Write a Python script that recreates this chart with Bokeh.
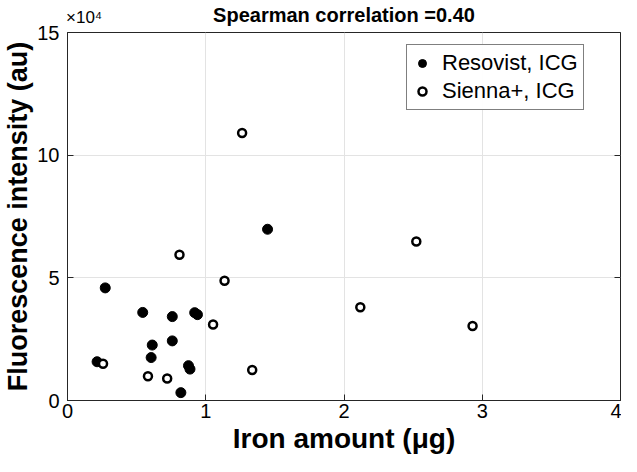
from bokeh.plotting import figure
from bokeh.models import (Range1d, FixedTicker, LinearAxis, Legend, LegendItem,
                          CustomJSTickFormatter)
from bokeh.embed import file_html
from bokeh.resources import INLINE

# Data (iron amount in µg, fluorescence intensity in au)
resovist_iron = [0.214, 0.273, 0.544, 0.758, 0.92, 0.94, 0.613, 0.758, 0.605, 0.875, 0.886, 0.82, 1.447]
resovist_fluor = [15800, 45900, 35900, 34200, 35800, 35000, 22600, 24300, 17500, 14200, 12800, 3200, 69800]

sienna_iron = [0.257, 0.582, 0.721, 0.81, 1.053, 1.136, 1.263, 1.336, 2.118, 2.523, 2.93]
sienna_fluor = [15000, 9900, 9000, 59400, 31000, 48800, 109000, 12400, 38000, 64800, 30400]

x_ticks = [0, 1, 2, 3, 4]
y_ticks = [0, 50000, 100000, 150000]
y_tick_labels = {0: "0", 50000: "5", 100000: "10", 150000: "15"}

title_text = "Spearman correlation =0.40"
x_label = "Iron amount (\u03bcg)"
y_label = "Fluorescence intensity (au)"
y_multiplier = "\u00d710\u2074"
series_names = ["Resovist, ICG", "Sienna+, ICG"]

FONT = "Liberation Sans"
AX = "#262626"

p = figure(width=621, height=456, output_backend="svg", toolbar_location=None,
           x_range=Range1d(0, 4), y_range=Range1d(0, 150000),
           min_border_left=62, min_border_right=1, min_border_top=24, min_border_bottom=55)
p.title.text = ""

p.outline_line_color = AX
p.outline_line_width = 1
p.background_fill_color = "white"
p.border_fill_color = "white"

for ax in (p.xaxis[0], p.yaxis[0]):
    ax.axis_line_color = AX
    ax.major_tick_line_color = AX
    ax.major_tick_in = 6
    ax.major_tick_out = 0
    ax.minor_tick_line_color = None
    ax.major_label_text_font = FONT
    ax.major_label_text_font_size = "20px"
    ax.major_label_text_color = "black"
    ax.axis_label_text_font = FONT
    ax.axis_label_text_font_style = "bold"
    ax.axis_label_text_color = "black"
    ax.axis_label_text_font_size = "27px"

p.xaxis[0].ticker = FixedTicker(ticks=x_ticks)
p.xaxis[0].axis_label = x_label
p.xaxis[0].axis_label_text_font_size = "28px"
p.xaxis[0].major_label_standoff = 3
p.xaxis[0].axis_label_standoff = 2
p.yaxis[0].ticker = FixedTicker(ticks=y_ticks)
p.yaxis[0].major_label_overrides = y_tick_labels
p.yaxis[0].axis_label = y_label
p.yaxis[0].major_label_standoff = 8
p.yaxis[0].axis_label_standoff = 1

# top axis: carries the exponent label near x=0 and the chart title as its label
top = LinearAxis(ticker=FixedTicker(ticks=[0.12]),
                 formatter=CustomJSTickFormatter(code="return '\u00d710\u2074';"),
                 axis_label=title_text)
top.axis_line_color = None
top.major_tick_line_color = None
top.minor_tick_line_color = None
top.major_label_standoff = 0
top.major_label_text_font = FONT
top.major_label_text_font_size = "17px"
top.major_label_text_color = "black"
top.axis_label_text_font = FONT
top.axis_label_text_font_size = "20px"
top.axis_label_text_font_style = "bold"
top.axis_label_text_color = "black"
top.axis_label_standoff = -21
p.add_layout(top, "above")

# right axis: inward ticks only
right = LinearAxis(ticker=FixedTicker(ticks=y_ticks),
                   formatter=CustomJSTickFormatter(code="return '';"))
right.axis_line_color = None
right.major_tick_line_color = AX
right.major_tick_in = 6
right.major_tick_out = 0
right.minor_tick_line_color = None
right.major_label_standoff = 0
right.major_label_text_font_size = "1px"
p.add_layout(right, "right")

p.xgrid.ticker = FixedTicker(ticks=x_ticks)
p.ygrid.ticker = FixedTicker(ticks=y_ticks)
p.grid.grid_line_color = "#e3e3e3"
p.grid.grid_line_width = 1

r1 = p.scatter(resovist_iron, resovist_fluor, marker="circle", size=10,
               fill_color="black", line_color="black")
r2 = p.scatter(sienna_iron, sienna_fluor, marker="circle", size=8,
               fill_color="white", line_color="black", line_width=2.5)

legend = Legend(items=[LegendItem(label=series_names[0], renderers=[r1]),
                       LegendItem(label=series_names[1], renderers=[r2])],
                location=(339, 290))
legend.label_text_font = FONT
legend.label_text_font_size = "22px"
legend.label_text_color = "black"
legend.border_line_color = "black"
legend.border_line_width = 1
legend.glyph_width = 20
legend.glyph_height = 26
legend.label_standoff = 10
legend.spacing = 2
legend.padding = 5
legend.label_height = 26
p.add_layout(legend)

open("out.html", "w").write(file_html(p, INLINE))
